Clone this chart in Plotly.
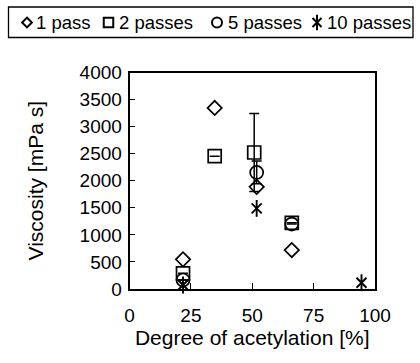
import plotly.graph_objects as go

# ---------------- Data ----------------
series_names = ["1 pass", "2 passes", "5 passes", "10 passes"]

x_1pass = [21.8, 34.7, 51.8, 66.1]
y_1pass = [548, 3345, 1887, 720]

x_2pass = [21.8, 34.7, 50.8, 66.1]
y_2pass = [290, 2454, 2522, 1223]
err_2pass = [0, 0, 720, 0]

x_5pass = [21.8, 51.8, 66.1]
y_5pass = [166, 2153, 1200]
err_5pass = [0, 210, 0]

x_10pass = [21.8, 51.8, 94.5]
y_10pass = [74, 1489, 116]

x_ticks = [0, 25, 50, 75, 100]
y_ticks = [0, 500, 1000, 1500, 2000, 2500, 3000, 3500, 4000]

# ---------------- Styling / layout constants ----------------
W, H = 420, 363
FONT = "Liberation Sans"
BLACK = "#000000"
TICK_FONT, TITLE_FONT, LEG_FONT = 19, 21, 18.5
PLOT_L, PLOT_R, PLOT_T, PLOT_B = 129.5, 375.0, 72.5, 289.0   # plot-area edges in px

# custom legend layout (pixel positions inside the figure)
LEG_BOX = (8.5, 7.0, 413.0, 37.5)
LEG_Y = 22.5
LEG_SYM_X = [27.0, 108.5, 217.0, 317.0]
LEG_TXT_X = [34.0, 116.5, 225.5, 324.5]
LEG_SYMBOLS = [
    [("diamond-open", 7.5)],
    [("square-open", 9.5)],
    [("circle-open", 10)],
    [("x-thin-open", 9), ("line-ns-open", 11)],
]

fig = go.Figure()
common = dict(mode="markers", showlegend=False, cliponaxis=False, xaxis="x", yaxis="y")

fig.add_trace(go.Scatter(
    x=x_2pass, y=y_2pass, name=series_names[1], **common,
    marker=dict(symbol="square-open", size=13, color=BLACK, line=dict(width=1.7, color=BLACK)),
    error_y=dict(type="data", array=err_2pass, color=BLACK, thickness=1.5, width=5),
))
fig.add_trace(go.Scatter(
    x=x_5pass, y=y_5pass, name=series_names[2], **common,
    marker=dict(symbol="circle-open", size=13, color=BLACK, line=dict(width=1.7, color=BLACK)),
    error_y=dict(type="data", array=err_5pass, color=BLACK, thickness=1.5, width=5),
))
fig.add_trace(go.Scatter(
    x=x_1pass, y=y_1pass, name=series_names[0], **common,
    marker=dict(symbol="diamond-open", size=11, color=BLACK, line=dict(width=1.7, color=BLACK)),
))
fig.add_trace(go.Scatter(
    x=x_10pass, y=y_10pass, name=series_names[3], **common,
    marker=dict(symbol="x-thin-open", size=10, color=BLACK, line=dict(width=1.9, color=BLACK)),
))
fig.add_trace(go.Scatter(
    x=x_10pass, y=y_10pass, name=series_names[3], **common,
    marker=dict(symbol="line-ns-open", size=12, color=BLACK, line=dict(width=1.9, color=BLACK)),
))

# ---------------- legend (drawn on a hidden pixel-scaled overlay axis) ----------------
for sx, syms in zip(LEG_SYM_X, LEG_SYMBOLS):
    for sym, sz in syms:
        fig.add_trace(go.Scatter(
            x=[sx], y=[LEG_Y], mode="markers", showlegend=False, hoverinfo="skip",
            xaxis="x2", yaxis="y2", cliponaxis=False,
            marker=dict(symbol=sym, size=sz, color=BLACK, line=dict(width=2, color=BLACK)),
        ))

annotations = [
    dict(text=name, x=tx, y=LEG_Y, xref="x2", yref="y2", xanchor="left", yanchor="middle",
         showarrow=False, font=dict(family=FONT, size=LEG_FONT, color=BLACK))
    for name, tx in zip(series_names, LEG_TXT_X)
]
shapes = [dict(type="rect", xref="x2", yref="y2", x0=LEG_BOX[0], y0=LEG_BOX[1], x1=LEG_BOX[2], y1=LEG_BOX[3],
               line=dict(color=BLACK, width=1.3), fillcolor="rgba(0,0,0,0)", layer="above")]

axis_common = dict(
    showline=True, mirror=True, linecolor=BLACK, linewidth=1.6,
    ticks="inside", ticklen=6, tickwidth=1.3, tickcolor=BLACK,
    showgrid=False, zeroline=False, automargin=False, fixedrange=True,
    tickfont=dict(family=FONT, size=TICK_FONT, color=BLACK),
)

fig.update_layout(
    width=W, height=H,
    margin=dict(l=0, r=0, t=0, b=0, pad=0),
    paper_bgcolor="white", plot_bgcolor="rgba(0,0,0,0)",
    font=dict(family=FONT, size=TICK_FONT, color=BLACK),
    showlegend=False,
    xaxis=dict(domain=[PLOT_L / W, PLOT_R / W], range=[0, 100], tickvals=x_ticks, anchor="y",
               ticklabelstandoff=8, **axis_common,
               title=dict(text="Degree of acetylation [%]", font=dict(family=FONT, size=TITLE_FONT, color=BLACK), standoff=5)),
    yaxis=dict(domain=[1 - PLOT_B / H, 1 - PLOT_T / H], range=[0, 4000], tickvals=y_ticks, anchor="x",
               ticklabelstandoff=2, **axis_common,
               title=dict(text="Viscosity [mPa s]", font=dict(family=FONT, size=TITLE_FONT, color=BLACK), standoff=30)),
    xaxis2=dict(domain=[0, 1], range=[0, W], visible=False, anchor="y2", fixedrange=True),
    yaxis2=dict(domain=[0, 1], range=[H, 0], visible=False, anchor="x2", fixedrange=True),
    annotations=annotations,
    shapes=shapes,
)

fig.write_html("out.html")
